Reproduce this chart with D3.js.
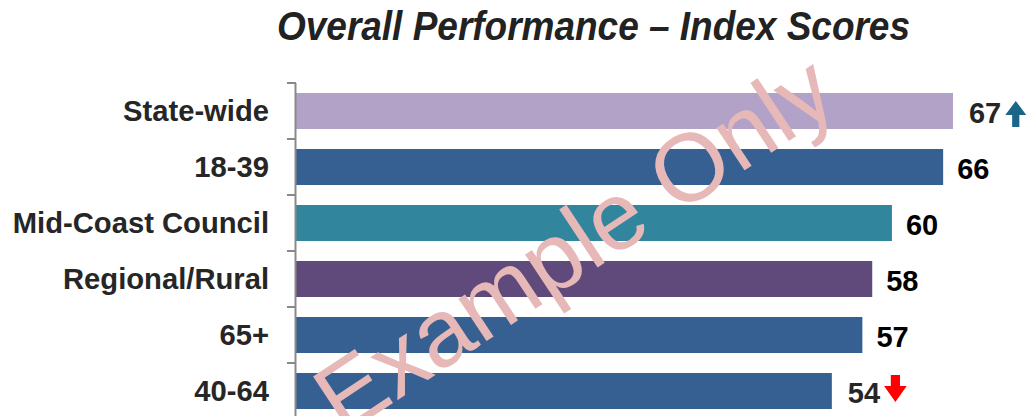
<!DOCTYPE html>
<html>
<head>
<meta charset="utf-8">
<script src="https://cdn.jsdelivr.net/npm/d3@7"></script>
<style>
  html, body { margin: 0; padding: 0; background: #ffffff; }
  svg { display: block; }
</style>
</head>
<body>
<svg id="chart" width="1028" height="416"></svg>
<script>
// ---- data ----
const categories = ["State-wide", "18-39", "Mid-Coast Council", "Regional/Rural", "65+", "40-64"];
const scores = [66.7, 65.7, 60.5, 58.5, 57.5, 54.4];
const scoreLabels = ["67", "66", "60", "58", "57", "54"];
const changes = ["up", null, null, null, null, "down"];
const barColors = ["#b2a2c7", "#376092", "#31859c", "#604a7b", "#376092", "#376092"];
const titleText = "Overall Performance \u2013 Index Scores";
const watermarkText = "Example Only";

// ---- layout ----
const svg = d3.select("#chart");
const W = 1028, H = 416;
svg.append("rect").attr("width", W).attr("height", H).attr("fill", "#ffffff");

const x = d3.scaleLinear().domain([0, 100]).range([296, 1281]);
const y = d3.scaleBand().domain(categories).range([83, 419])
  .paddingInner(0.357).paddingOuter(0.1785);

// title
svg.append("text")
  .attr("x", 593.5).attr("y", 40)
  .attr("text-anchor", "middle")
  .attr("font-family", "Liberation Sans, Arial, sans-serif")
  .attr("font-weight", "bold").attr("font-style", "italic")
  .attr("font-size", 40)
  .attr("textLength", 633).attr("lengthAdjust", "spacingAndGlyphs")
  .attr("fill", "#222222")
  .text(titleText);

// bars
svg.append("g").selectAll("rect")
  .data(categories)
  .join("rect")
  .attr("x", x(0))
  .attr("y", d => y(d))
  .attr("width", (d, i) => x(scores[i]) - x(0))
  .attr("height", y.bandwidth())
  .attr("fill", (d, i) => barColors[i]);

// axis line + ticks at band boundaries
const axisG = svg.append("g");
const bandStart = d => y(d) - y.step() * y.paddingInner() / 2;
const tickYs = categories.map(bandStart).concat([bandStart(categories[categories.length - 1]) + y.step()]);
axisG.append("line")
  .attr("x1", 295.5).attr("x2", 295.5)
  .attr("y1", tickYs[0]).attr("y2", tickYs[tickYs.length - 1])
  .attr("stroke", "#898989").attr("stroke-width", 2);
axisG.selectAll("line.tick")
  .data(tickYs)
  .join("line")
  .attr("class", "tick")
  .attr("x1", 287).attr("x2", 296)
  .attr("y1", d => d).attr("y2", d => d)
  .attr("stroke", "#898989").attr("stroke-width", 2);

// category labels
svg.append("g").selectAll("text")
  .data(categories)
  .join("text")
  .attr("x", 269)
  .attr("y", d => y(d) + y.bandwidth() / 2 + 10)
  .attr("text-anchor", "end")
  .attr("font-family", "Liberation Sans, Arial, sans-serif")
  .attr("font-weight", "bold")
  .attr("font-size", 29.2)
  .attr("fill", "#262626")
  .text(d => d);

// value labels + arrows
const valG = svg.append("g");
categories.forEach((c, i) => {
  const cy = y(c) + y.bandwidth() / 2;
  const tx = x(scores[i]) + (changes[i] ? 16 : 14);
  const t = valG.append("text")
    .attr("x", tx)
    .attr("y", cy + 11.5)
    .attr("font-family", "Liberation Sans, Arial, sans-serif")
    .attr("font-weight", "bold")
    .attr("font-size", 29)
    .attr("fill", changes[i] ? "#262626" : "#000000")
    .text(scoreLabels[i]);
  if (changes[i]) {
    const w = t.node().getComputedTextLength();
    const ax = tx + w + 4;
    if (changes[i] === "up") {
      const top = cy - 10, hw = 10.5, hh = 14, sw = 3.6, bot = cy + 16;
      const p = [[ax + hw, top], [ax + 2 * hw, top + hh], [ax + hw + sw, top + hh], [ax + hw + sw, bot],
                 [ax + hw - sw, bot], [ax + hw - sw, top + hh], [ax, top + hh]];
      valG.append("path").attr("d", d3.line()(p) + "Z").attr("fill", "#1a6688");
    } else {
      const top = cy - 16, hw = 11.3, hh = 16, sw = 4.6, bot = cy + 11;
      const p = [[ax + hw - sw, top], [ax + hw + sw, top], [ax + hw + sw, bot - hh], [ax + 2 * hw, bot - hh],
                 [ax + hw, bot], [ax, bot - hh], [ax + hw - sw, bot - hh]];
      valG.append("path").attr("d", d3.line()(p) + "Z").attr("fill", "#ff0000");
    }
  }
});

// watermark
svg.append("text")
  .attr("transform", "translate(343,436) rotate(-33.5)")
  .attr("font-family", "Liberation Sans, Arial, sans-serif")
  .attr("font-size", 96)
  .attr("fill", "#e6b9b8")
  .text(watermarkText);
</script>
</body>
</html>
